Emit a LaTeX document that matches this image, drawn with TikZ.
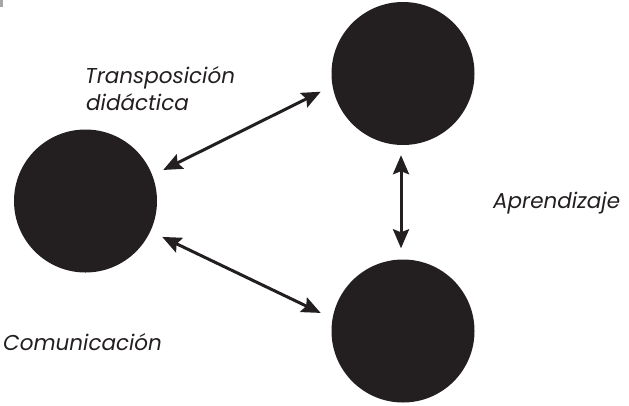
\documentclass[tikz,border=0pt]{standalone}
\usepackage{fontspec}
\setmainfont{Poppins}
\usetikzlibrary{arrows.meta}
\definecolor{ink}{HTML}{231F20}
\tikzset{
  ball/.style={circle, fill=ink, draw=none, minimum size=143pt, inner sep=0pt},
  arr/.style={draw=ink, line width=3pt, {Stealth[length=19pt,width=16pt,inset=3pt]}-{Stealth[length=19pt,width=16pt,inset=3pt]}},
  lbl/.style={text=ink, font=\fontsize{21.5}{27}\selectfont\itshape, inner sep=0pt, anchor=base west, align=left}
}
\begin{document}
\begin{tikzpicture}[x=1pt,y=-1pt]
\useasboundingbox (0,0) rectangle (629,405);
\fill[gray!70] (0,0) rectangle (3,7);
\node[ball] (L) at (85.5,201) {};
\node[ball] (T) at (403,73.5) {};
\node[ball] (B) at (403,331) {};
\draw[arr, shorten <=12pt, shorten >=13pt] (L.21) -- (T.190);
\draw[arr, shorten <=13pt, shorten >=13pt] (L.-25) -- (B.170);
\draw[arr, shorten <=10pt, shorten >=11pt] ([xshift=-2pt]T.south) -- ([xshift=-2pt]B.north);
\node[lbl] (t1) at (85,83) {Transposición};
\node[lbl] (t2) at (86,110) {didáctica};
\node[lbl] (t3) at (493,208) {Aprendizaje};
\node[lbl] (t4) at (3,350) {Comunicación};
\end{tikzpicture}
\end{document}
